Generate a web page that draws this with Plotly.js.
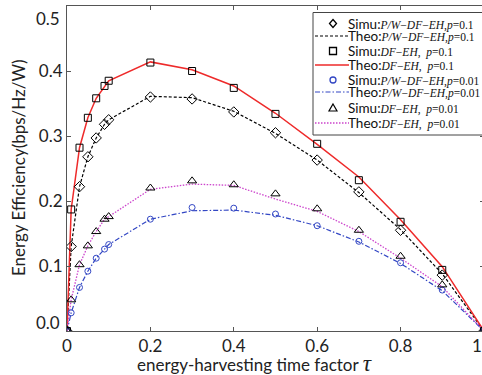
<!DOCTYPE html>
<html><head><meta charset="utf-8">
<script src="https://cdn.plot.ly/plotly-3.0.1.min.js"></script>
<style>html,body{margin:0;padding:0;overflow:hidden;background:#fff}#chart{width:490px;height:375px}</style>
</head><body><div id="chart"></div>
<script>
// ---- data ----
const tau = [0, 0.01, 0.03, 0.05, 0.07, 0.09, 0.1, 0.2, 0.3, 0.4, 0.5, 0.6, 0.7, 0.8, 0.9, 1.0];
const simuPW01 = [0, 0.13, 0.222, 0.268, 0.297, 0.318, 0.325, 0.360, 0.357, 0.337, 0.305, 0.263, 0.214, 0.155, 0.086, 0];
const theoPW01 = [0, 0.13, 0.222, 0.268, 0.297, 0.318, 0.325, 0.361, 0.359, 0.338, 0.304, 0.263, 0.213, 0.156, 0.088, 0];
const simuDF01 = [0, 0.187, 0.282, 0.328, 0.358, 0.377, 0.385, 0.413, 0.400, 0.374, 0.334, 0.288, 0.232, 0.168, 0.094, 0];
const theoDF01 = [0, 0.187, 0.282, 0.328, 0.358, 0.377, 0.385, 0.414, 0.402, 0.377, 0.335, 0.287, 0.237, 0.171, 0.099, 0];
const simuPW001 = [0, 0.028, 0.067, 0.092, 0.112, 0.126, 0.133, 0.172, 0.190, 0.189, 0.180, 0.162, 0.138, 0.105, 0.063, 0];
const theoPW001 = [0, 0.028, 0.067, 0.092, 0.112, 0.126, 0.133, 0.172, 0.185, 0.186, 0.178, 0.162, 0.137, 0.104, 0.062, 0];
const simuDF001 = [0, 0.048, 0.102, 0.131, 0.153, 0.172, 0.176, 0.220, 0.231, 0.225, 0.211, 0.188, 0.155, 0.115, 0.071, 0];
const theoDF001 = [0, 0.048, 0.102, 0.131, 0.153, 0.172, 0.176, 0.218, 0.226, 0.224, 0.203, 0.184, 0.153, 0.112, 0.068, 0];
const xTickVals = [0, 0.2, 0.4, 0.6, 0.8, 1.0];
const xTickText = ['0', '0.2', '0.4', '0.6', '0.8', '1.0'];
const yTickVals = [0.1, 0.2, 0.3, 0.4];
const yTickText = ['0.1', '0.2', '0.3', '0.4'];
const yEdgeLabels = ['0.0', '0.5'];
const legendPrefix = ['Simu:', 'Theo:', 'Simu:', 'Theo:', 'Simu:', 'Theo:', 'Simu:', 'Theo:'];
const legendMath = [
  '<i>P/W</i>−<i>DF</i>−<i>EH</i>,<i>p</i>=0.1',
  '<i>P/W</i>−<i>DF</i>−<i>EH</i>,<i>p</i>=0.1',
  '<i>DF</i>−<i>EH</i>,  <i>p</i>=0.1',
  '<i>DF</i>−<i>EH</i>,  <i>p</i>=0.1',
  '<i>P/W</i>−<i>DF</i>−<i>EH</i>,<i>p</i>=0.01',
  '<i>P/W</i>−<i>DF</i>−<i>EH</i>,<i>p</i>=0.01',
  '<i>DF</i>−<i>EH</i>,  <i>p</i>=0.01',
  '<i>DF</i>−<i>EH</i>,  <i>p</i>=0.01'
];
const xTitle = 'energy-harvesting time factor';
const yTitle = 'Energy Efficiency(bps/Hz/W)';

// ---- layout geometry ----
const W = 490, H = 375, ML = 67, MR = 6, MT = 6, MB = 44;
const PW = W - ML - MR, PH = H - MT - MB;
const px = v => (v - ML) / PW;
const py = v => (H - MB - v) / PH;
const FONT = 'Lato';
const BLUE = '#3347c4', RED = '#ee2a2a', MAG = '#cc44cc', TXT = '#222';

const styles = [
  {kind: 'm', symbol: 'diamond-open', size: 8, color: '#000'},
  {kind: 'l', color: '#000', dash: '3px,2px', width: 1.2},
  {kind: 'm', symbol: 'square-open', size: 7, color: '#000'},
  {kind: 'l', color: RED, dash: 'solid', width: 1.5},
  {kind: 'm', symbol: 'circle-open', size: 6, color: BLUE},
  {kind: 'l', color: BLUE, dash: '5px,2px,1.5px,2px', width: 1.2},
  {kind: 'm', symbol: 'triangle-up-open', size: 8, color: '#000'},
  {kind: 'l', color: MAG, dash: '1.5px,1.5px', width: 1.3}
];
const series = [simuPW01, theoPW01, simuDF01, theoDF01, simuPW001, theoPW001, simuDF001, theoDF001];

const traces = [];
[1, 3, 5, 7, 0, 2, 4, 6].forEach(i => {
  const s = styles[i];
  const t = {x: tau, y: series[i], type: 'scatter', showlegend: false, name: legendPrefix[i]};
  if (s.kind === 'l') {
    t.mode = 'lines';
    t.line = {color: s.color, dash: s.dash, width: s.width};
  } else {
    t.mode = 'markers';
    t.marker = {symbol: s.symbol, size: s.size, color: s.color, line: {width: 1, color: s.color}};
  }
  traces.push(t);
});

// ---- custom legend (compact, as in the reference) ----
const rows = [23.5, 36, 51, 65, 80, 92, 108, 123];
const shapes = [{type: 'rect', xref: 'paper', yref: 'paper', x0: px(313), x1: px(495), y0: py(135), y1: py(12.5),
  line: {color: '#444', width: 1}, fillcolor: '#fff', layer: 'above'}];
const annotations = [];
rows.forEach((r, i) => {
  const s = styles[i];
  const cx = 333, h = 3.5;
  if (s.kind === 'l') {
    shapes.push({type: 'line', xref: 'paper', yref: 'paper', x0: px(315), x1: px(349), y0: py(r), y1: py(r),
      line: {color: s.color, dash: s.dash, width: s.width}, layer: 'above'});
  } else if (s.symbol === 'diamond-open') {
    shapes.push({type: 'path', xref: 'paper', yref: 'paper', layer: 'above', line: {color: s.color, width: 1.3},
      path: `M${px(cx)},${py(r - 4)} L${px(cx + 3.5)},${py(r)} L${px(cx)},${py(r + 4)} L${px(cx - 3.5)},${py(r)} Z`});
  } else if (s.symbol === 'square-open') {
    shapes.push({type: 'rect', xref: 'paper', yref: 'paper', x0: px(cx - h), x1: px(cx + h), y0: py(r + h), y1: py(r - h),
      line: {color: s.color, width: 1.3}, layer: 'above'});
  } else if (s.symbol === 'circle-open') {
    shapes.push({type: 'circle', xref: 'paper', yref: 'paper', x0: px(cx - 3), x1: px(cx + 3), y0: py(r + 3), y1: py(r - 3),
      line: {color: s.color, width: 1.3}, layer: 'above'});
  } else {
    shapes.push({type: 'path', xref: 'paper', yref: 'paper', layer: 'above', line: {color: s.color, width: 1.2},
      path: `M${px(cx)},${py(r - 4)} L${px(cx + 4)},${py(r + 3)} L${px(cx - 4)},${py(r + 3)} Z`});
  }
  annotations.push({xref: 'paper', yref: 'paper', x: px(347), y: py(r), xanchor: 'left', yanchor: 'middle',
    showarrow: false, align: 'left', borderpad: 0,
    text: `${legendPrefix[i]}<span style="font-family:Liberation Serif;font-size:11.5px">${legendMath[i]}</span>`,
    font: {family: FONT, size: 13.5, color: '#111'}});
});

// edge y labels (shifted inward as in the reference)
annotations.push({xref: 'paper', yref: 'paper', x: px(61), y: py(322), xanchor: 'right', yanchor: 'middle', showarrow: false,
  borderpad: 0, text: yEdgeLabels[0], font: {family: FONT, size: 17, color: TXT}});
annotations.push({xref: 'paper', yref: 'paper', x: px(61), y: py(18), xanchor: 'right', yanchor: 'middle', showarrow: false,
  borderpad: 0, text: yEdgeLabels[1], font: {family: FONT, size: 17, color: TXT}});
// axis titles
annotations.push({xref: 'paper', yref: 'paper', x: px(254), y: py(363), xanchor: 'center', yanchor: 'middle', showarrow: false,
  borderpad: 0, text: `${xTitle} <span style="font-family:Liberation Serif;font-size:23px"><i>τ</i></span>`,
  font: {family: FONT, size: 17, color: TXT}});
annotations.push({xref: 'paper', yref: 'paper', x: px(18), y: py(168), xanchor: 'center', yanchor: 'middle', showarrow: false,
  borderpad: 0, textangle: -90, text: yTitle, font: {family: FONT, size: 17, color: TXT}});

const axisCommon = {showgrid: false, zeroline: false, showline: true, linecolor: '#555', linewidth: 1,
  mirror: 'ticks', ticks: 'inside', ticklen: 4, tickcolor: '#555', ticklabeloverflow: 'allow',
  tickfont: {family: FONT, size: 17, color: TXT}};

const layout = {
  width: W, height: H, margin: {l: ML, r: MR, t: MT, b: MB, pad: 0},
  paper_bgcolor: '#fff', plot_bgcolor: '#fff',
  xaxis: Object.assign({}, axisCommon, {range: [0, 1.0001], tickvals: xTickVals, ticktext: xTickText, fixedrange: true}),
  yaxis: Object.assign({}, axisCommon, {range: [0, 0.5], tickvals: yTickVals, ticktext: yTickText, fixedrange: true}),
  shapes, annotations
};
Plotly.newPlot('chart', traces, layout, {staticPlot: true, displayModeBar: false});
</script></body></html>
